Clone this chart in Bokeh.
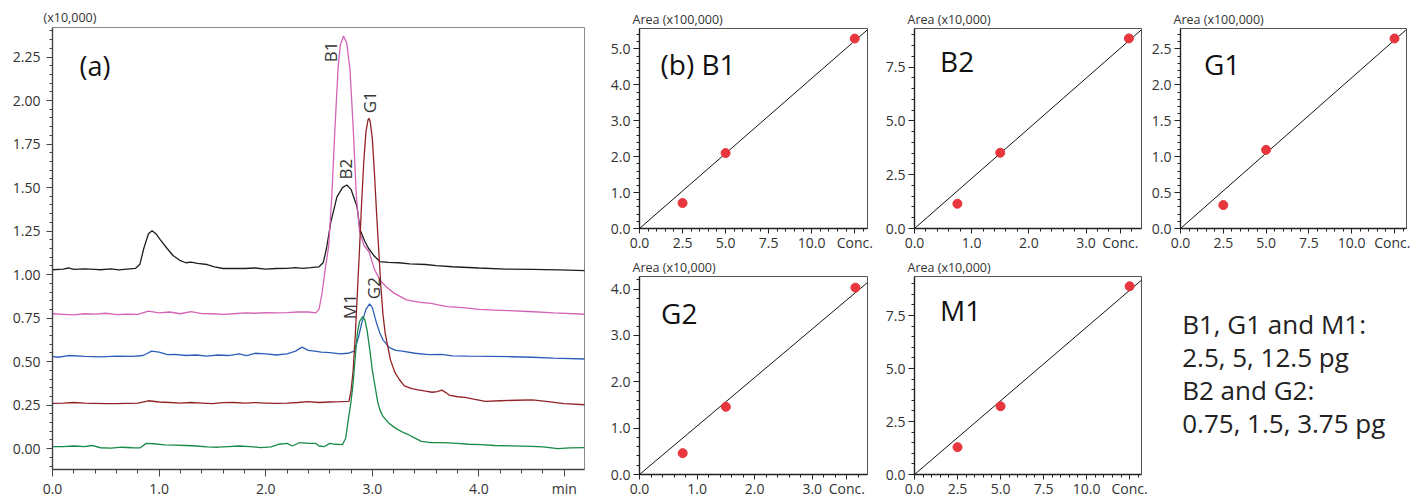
from bokeh.plotting import figure
from bokeh.layouts import row, column
from bokeh.models import FixedTicker, Label, Range1d, NumeralTickFormatter
from bokeh.core.properties import value
from bokeh.embed import file_html
from bokeh.resources import INLINE

FONT = "Open Sans"
INK = "#333333"

# ---------------- (a) chromatograms, intensity x10,000 ----------------
b2_t = [0.0, 0.1, 0.15, 0.2, 0.3, 0.4, 0.45, 0.55, 0.62, 0.7, 0.78, 0.82, 0.856, 0.9, 0.934, 0.97,
        1.012, 1.075, 1.13, 1.2, 1.25, 1.3, 1.36, 1.45, 1.52, 1.6, 1.8, 1.9, 2.0, 2.1, 2.2, 2.28,
        2.35, 2.42, 2.5, 2.54, 2.57, 2.61, 2.668, 2.72, 2.76, 2.8, 2.856, 2.886, 2.93, 2.965, 3.02,
        3.07, 3.15, 3.25, 3.35, 3.5, 3.6, 3.75, 4.0, 4.25, 4.5, 4.75, 5.0]
b2_y = [1.028, 1.032, 1.038, 1.03, 1.033, 1.03, 1.028, 1.033, 1.027, 1.032, 1.036, 1.06, 1.15, 1.235,
        1.252, 1.235, 1.20, 1.15, 1.11, 1.08, 1.068, 1.072, 1.065, 1.058, 1.045, 1.035, 1.035, 1.038,
        1.032, 1.035, 1.036, 1.04, 1.036, 1.04, 1.045, 1.07, 1.15, 1.30, 1.447, 1.50, 1.515, 1.49,
        1.39, 1.256, 1.19, 1.15, 1.105, 1.075, 1.07, 1.068, 1.062, 1.058, 1.052, 1.045, 1.038, 1.032,
        1.03, 1.027, 1.023]

b1_t = [0.0, 0.1, 0.2, 0.3, 0.4, 0.5, 0.6, 0.7, 0.8, 0.9, 1.0, 1.1, 1.2, 1.3, 1.4, 1.5, 1.6, 1.7,
        1.8, 1.9, 2.0, 2.1, 2.2, 2.3, 2.4, 2.47, 2.5, 2.53, 2.56, 2.59, 2.62, 2.65, 2.68, 2.7, 2.73,
        2.76, 2.79, 2.82, 2.85, 2.88, 2.92, 2.97, 3.02, 3.07, 3.13, 3.2, 3.32, 3.45, 3.55, 3.7, 3.85,
        4.0, 4.2, 4.47, 4.7, 5.0]
b1_y = [0.775, 0.772, 0.768, 0.775, 0.773, 0.778, 0.77, 0.773, 0.772, 0.79, 0.78, 0.785, 0.775,
        0.787, 0.776, 0.775, 0.772, 0.775, 0.78, 0.778, 0.782, 0.78, 0.782, 0.785, 0.785, 0.78, 0.80,
        0.90, 1.04, 1.16, 1.45, 1.85, 2.2, 2.32, 2.371, 2.33, 2.18, 1.85, 1.45, 1.25, 1.17, 1.13,
        1.03, 0.97, 0.93, 0.895, 0.855, 0.84, 0.835, 0.816, 0.81, 0.80, 0.795, 0.788, 0.78, 0.772]

g2_t = [0.0, 0.05, 0.15, 0.3, 0.45, 0.6, 0.75, 0.85, 0.93, 1.0, 1.08, 1.15, 1.25, 1.35, 1.45, 1.55,
        1.65, 1.75, 1.82, 1.9, 2.0, 2.1, 2.2, 2.28, 2.34, 2.4, 2.46, 2.52, 2.6, 2.7, 2.77, 2.83, 2.87,
        2.9, 2.94, 2.975, 3.0, 3.04, 3.07, 3.1, 3.16, 3.22, 3.28, 3.4, 3.53, 3.65, 3.75, 3.9, 4.1,
        4.31, 4.5, 4.7, 5.0]
g2_y = [0.53, 0.525, 0.535, 0.53, 0.527, 0.532, 0.53, 0.535, 0.56, 0.555, 0.54, 0.542, 0.535, 0.538,
        0.532, 0.538, 0.535, 0.545, 0.535, 0.548, 0.545, 0.538, 0.545, 0.56, 0.583, 0.565, 0.56, 0.555,
        0.552, 0.545, 0.548, 0.56, 0.64, 0.72, 0.80, 0.832, 0.81, 0.72, 0.665, 0.625, 0.58, 0.565,
        0.56, 0.548, 0.54, 0.542, 0.533, 0.531, 0.53, 0.528, 0.525, 0.52, 0.515]

g1_t = [0.0, 0.1, 0.2, 0.3, 0.4, 0.5, 0.6, 0.7, 0.8, 0.9, 1.0, 1.1, 1.2, 1.3, 1.4, 1.5, 1.6, 1.7,
        1.8, 1.9, 2.0, 2.1, 2.2, 2.3, 2.4, 2.5, 2.6, 2.7, 2.78, 2.8, 2.82, 2.84, 2.86, 2.88, 2.9, 2.92,
        2.94, 2.96, 2.97, 2.98, 3.0, 3.02, 3.04, 3.06, 3.08, 3.1, 3.12, 3.14, 3.17, 3.21, 3.25, 3.3,
        3.37, 3.43, 3.5, 3.56, 3.61, 3.65, 3.69, 3.72, 3.8, 3.87, 3.95, 4.06, 4.2, 4.35, 4.5, 4.65,
        4.8, 5.0]
g1_y = [0.26, 0.262, 0.265, 0.262, 0.26, 0.258, 0.258, 0.26, 0.262, 0.275, 0.268, 0.265, 0.262, 0.265,
        0.262, 0.258, 0.264, 0.265, 0.262, 0.264, 0.262, 0.26, 0.262, 0.265, 0.27, 0.265, 0.268, 0.27,
        0.272, 0.33, 0.45, 0.65, 0.90, 1.15, 1.42, 1.65, 1.82, 1.89, 1.897, 1.88, 1.78, 1.58, 1.35,
        1.14, 0.93, 0.77, 0.665, 0.60, 0.51, 0.44, 0.40, 0.36, 0.345, 0.338, 0.33, 0.324, 0.328, 0.336,
        0.322, 0.308, 0.298, 0.295, 0.285, 0.272, 0.275, 0.278, 0.28, 0.27, 0.258, 0.252]

m1_t = [0.0, 0.1, 0.2, 0.3, 0.37, 0.45, 0.55, 0.65, 0.75, 0.82, 0.88, 0.95, 1.05, 1.15, 1.25, 1.35,
        1.45, 1.55, 1.65, 1.75, 1.85, 1.95, 2.05, 2.12, 2.2, 2.25, 2.32, 2.4, 2.47, 2.5, 2.55, 2.6,
        2.65, 2.72, 2.75, 2.77, 2.8, 2.82, 2.84, 2.86, 2.88, 2.91, 2.93, 2.95, 2.98, 3.0, 3.02, 3.05,
        3.07, 3.1, 3.15, 3.2, 3.24, 3.3, 3.34, 3.4, 3.46, 3.55, 3.65, 3.71, 3.8, 3.9, 4.02, 4.15, 4.3,
        4.49, 4.6, 4.74, 4.85, 5.0]
m1_y = [0.012, 0.012, 0.015, 0.012, 0.018, 0.005, 0.003, 0.008, 0.005, 0.004, 0.03, 0.028, 0.022,
        0.02, 0.018, 0.015, 0.01, 0.008, 0.012, 0.015, 0.012, 0.006, 0.01, 0.025, 0.03, 0.015, 0.035,
        0.03, 0.03, 0.015, 0.012, 0.03, 0.025, 0.023, 0.06, 0.147, 0.27, 0.377, 0.53, 0.665, 0.73,
        0.759, 0.74, 0.683, 0.55, 0.45, 0.377, 0.27, 0.224, 0.185, 0.149, 0.125, 0.109, 0.09, 0.08,
        0.06, 0.042, 0.035, 0.035, 0.033, 0.03, 0.025, 0.023, 0.018, 0.016, 0.013, 0.01, 0.0, 0.004,
        0.006]

trace_colors = {"B2": "#1e1e1e", "B1": "#d463b6", "G2": "#2d5fb8", "G1": "#932226", "M1": "#178a45"}

peak_names = ["B1", "G1", "B2", "M1", "G2"]
peak_label_t = [2.61, 2.97, 2.75, 2.785, 3.01]
peak_label_y = [2.28, 1.99, 1.606, 0.816, 0.922]

chrom_x_ticks = [0, 1, 2, 3, 4, 4.8]
chrom_x_labels = ["0.0", "1.0", "2.0", "3.0", "4.0", "min"]
chrom_y_ticks = [0, 0.25, 0.5, 0.75, 1.0, 1.25, 1.5, 1.75, 2.0, 2.25]
chrom_y_labels = ["0.00", "0.25", "0.50", "0.75", "1.00", "1.25", "1.50", "1.75", "2.00", "2.25"]

# ---------------- (b) calibration, three levels ----------------
conc_b1_g1_m1 = [2.5, 5.0, 12.5]      # pg
conc_b2_g2 = [0.75, 1.5, 3.75]        # pg
area_b1 = [0.71, 2.10, 5.29]          # x100,000
area_b2 = [1.15, 3.52, 8.83]          # x10,000
area_g1 = [0.326, 1.095, 2.646]       # x100,000
area_g2 = [0.46, 1.46, 4.03]          # x10,000
area_m1 = [1.29, 3.22, 8.88]          # x10,000

pg_ticks_long = [0, 2.5, 5.0, 7.5, 10.0, 12.5]
pg_labels_long = ["0.0", "2.5", "5.0", "7.5", "10.0", "Conc."]
pg_ticks_short = [0, 1, 2, 3, 3.6]
pg_labels_short = ["0.0", "1.0", "2.0", "3.0", "Conc."]

note_lines = ["B1, G1 and M1:", "2.5, 5, 12.5 pg", "B2 and G2:", "0.75, 1.5, 3.75 pg"]


def steps(start, stop, step):
    n = int(round((stop - start) / step))
    return [round(start + i * step, 4) for i in range(n + 1)]


def style_axis(ax, size, tick_out, minor_out, line_color, standoff):
    ax.axis_line_color = line_color
    ax.axis_line_width = 1.4
    ax.major_tick_line_color = line_color
    ax.minor_tick_line_color = line_color
    ax.major_tick_in = 0
    ax.minor_tick_in = 0
    ax.major_tick_out = tick_out
    ax.minor_tick_out = minor_out
    ax.major_label_text_font = FONT
    ax.major_label_text_font_size = size
    ax.major_label_text_color = INK
    ax.major_label_standoff = standoff


def style_title(p, text, offset, standoff):
    p.title.text = text
    p.title.align = "left"
    p.title.offset = offset
    p.title.standoff = standoff
    p.title.text_font = FONT
    p.title.text_font_size = "12.5px"
    p.title.text_font_style = "normal"
    p.title.text_color = INK


# ---------------- left figure ----------------
pa = figure(width=599, height=500, x_range=Range1d(0, 4.99), y_range=Range1d(-0.12, 2.42),
            output_backend="svg", toolbar_location=None,
            min_border_left=52, min_border_right=15, min_border_top=27, min_border_bottom=30)
pa.grid.visible = False
pa.outline_line_color = "#8a8a8a"
pa.background_fill_color = "white"
pa.border_fill_color = "white"
style_title(pa, "(x10,000)", -9, 3)

for t, y, key in [(b2_t, b2_y, "B2"), (b1_t, b1_y, "B1"), (g2_t, g2_y, "G2"),
                  (g1_t, g1_y, "G1"), (m1_t, m1_y, "M1")]:
    pa.line(t, y, line_color=trace_colors[key], line_width=1.3)

xa = pa.xaxis[0]
xa.ticker = FixedTicker(ticks=chrom_x_ticks, minor_ticks=steps(0, 5.0, 0.2))
xa.major_label_overrides = {t: l for t, l in zip(chrom_x_ticks, chrom_x_labels)}
xa.formatter = NumeralTickFormatter(format="0.0")
style_axis(xa, "14px", 7, 4, "#444444", 2)
ya = pa.yaxis[0]
ya.ticker = FixedTicker(ticks=chrom_y_ticks, minor_ticks=steps(-0.1, 2.4, 0.05))
ya.major_label_overrides = {t: l for t, l in zip(chrom_y_ticks, chrom_y_labels)}
ya.formatter = NumeralTickFormatter(format="0.00")
style_axis(ya, "14px", 6, 3, "#444444", 6)

pa.add_layout(Label(x=0.253, y=2.20, text="(a)", text_font=FONT, text_font_size="27px",
                    text_color="#111111", text_align="left", text_baseline="middle"))
for name, tx, ty in zip(peak_names, peak_label_t, peak_label_y):
    pa.add_layout(Label(x=tx, y=ty, text=name, angle=90, angle_units="deg", text_font=FONT,
                        text_font_size="17px", text_color=INK, text_align="center",
                        text_baseline="middle"))


# ---------------- calibration panels ----------------
def panel(width, height, mbl, mbr, mbt, mbb, x_end, y_end, xmaj, xlab, xminor, ymaj, ylab,
          yminor, conc, area, name, name_x, name_y, unit):
    p = figure(width=width, height=height, x_range=Range1d(0, x_end), y_range=Range1d(0, y_end),
               output_backend="svg", toolbar_location=None,
               min_border_left=mbl, min_border_right=mbr, min_border_top=mbt, min_border_bottom=mbb)
    p.grid.visible = False
    p.outline_line_color = "#555555"
    p.background_fill_color = "white"
    p.border_fill_color = "white"
    style_title(p, unit, -7, 1)
    slope = sum(c * a for c, a in zip(conc, area)) / sum(c * c for c in conc)
    xs = [0, x_end]
    p.line(xs, [slope * x for x in xs], line_color="#111111", line_width=1)
    p.scatter(conc, area, size=9, fill_color="#e8363e", line_color="#e8363e")
    ax = p.xaxis[0]
    ax.ticker = FixedTicker(ticks=xmaj, minor_ticks=steps(0, x_end - 0.01, xminor))
    ax.major_label_overrides = {t: l for t, l in zip(xmaj, xlab)}
    ax.formatter = NumeralTickFormatter(format="0.0")
    style_axis(ax, "14px", 5, 3, "#222222", -1)
    ay = p.yaxis[0]
    ay.ticker = FixedTicker(ticks=ymaj, minor_ticks=steps(0, y_end - 0.001, yminor))
    ay.major_label_overrides = {t: l for t, l in zip(ymaj, ylab)}
    ay.formatter = NumeralTickFormatter(format="0.0")
    style_axis(ay, "14px", 6, 3, "#222222", 3)
    p.add_layout(Label(x=name_x, y=name_y, text=name, text_font=FONT, text_font_size="28px",
                       text_color="#111111", text_align="left", text_baseline="middle"))
    return p


R1H, R2H = 254, 246
R2_TOP, R2_BOTTOM = 22, 25
pb1 = panel(283, R1H, 40, 15, 28, 25, 13.24, 5.57, pg_ticks_long, pg_labels_long, 0.5,
            [0, 1, 2, 3, 4, 5], ["0.0", "1.0", "2.0", "3.0", "4.0", "5.0"], 0.2,
            conc_b1_g1_m1, area_b1, "(b) B1", 1.22, 4.59, "Area (x100,000)")
pb2 = panel(266, R1H, 31, 7, 28, 25, 3.97, 9.29, pg_ticks_short, pg_labels_short, 0.2,
            [0, 2.5, 5.0, 7.5], ["0.0", "2.5", "5.0", "7.5"], 0.5,
            conc_b2_g2, area_b2, "B2", 0.447, 7.76, "Area (x10,000)")
pg1 = panel(262, R1H, 30, 4, 28, 25, 13.2, 2.785, pg_ticks_long, pg_labels_long, 0.5,
            [0, 0.5, 1.0, 1.5, 2.0, 2.5], ["0.0", "0.5", "1.0", "1.5", "2.0", "2.5"], 0.1,
            conc_b1_g1_m1, area_g1, "G1", 1.37, 2.297, "Area (x100,000)")
pg2 = panel(283, R2H, 40, 15, R2_TOP, R2_BOTTOM, 3.96, 4.27, pg_ticks_short, pg_labels_short, 0.2,
            [0, 1, 2, 3, 4], ["0.0", "1.0", "2.0", "3.0", "4.0"], 0.2,
            conc_b2_g2, area_g2, "G2", 0.375, 3.49, "Area (x10,000)")
pm1 = panel(266, R2H, 31, 7, R2_TOP, R2_BOTTOM, 13.19, 9.34, pg_ticks_long, pg_labels_long, 0.5,
            [0, 2.5, 5.0, 7.5], ["0.0", "2.5", "5.0", "7.5"], 0.5,
            conc_b1_g1_m1, area_m1, "M1", 1.48, 7.76, "Area (x10,000)")

# note text: frame aligned with its row neighbours, y measured in px downward from frame top
NOTE_FRAME_H = R2H - R2_TOP - R2_BOTTOM
pn = figure(width=262, height=R2H, x_range=Range1d(0, 262), y_range=Range1d(NOTE_FRAME_H, 0),
            x_axis_type=None, y_axis_type=None, output_backend="svg", toolbar_location=None,
            min_border_left=0, min_border_right=0, min_border_top=R2_TOP,
            min_border_bottom=R2_BOTTOM, title=None)
pn.grid.visible = False
pn.outline_line_color = None
pn.background_fill_color = "white"
pn.border_fill_color = "white"
pn.text(x=[33.7] * 4, y=[48, 81, 114, 147], text=note_lines, text_font=value(FONT),
        text_font_size="26px", text_color="#222222", text_baseline="alphabetic", text_align="left")

layout = row(pa, column(row(pb1, pb2, pg1), row(pg2, pm1, pn)))
open("out.html", "w").write(file_html(layout, INLINE))
